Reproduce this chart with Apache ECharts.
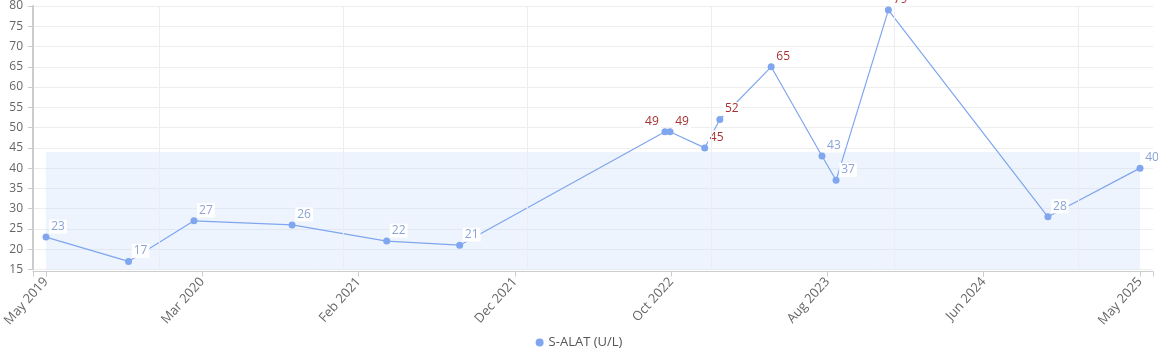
<!DOCTYPE html>
<html>
<head>
<meta charset="utf-8">
<script src="https://cdn.jsdelivr.net/npm/echarts@6/dist/echarts.min.js"></script>
<style>
html,body{margin:0;padding:0;background:#fff;}
#chart{width:1158px;height:361px;}
</style>
</head>
<body>
<div id="chart"></div>
<script>
// ---- data ----
const seriesName = 'S-ALAT (U/L)';
const dates = ['2019-05-21','2019-11-01','2020-03-10','2020-09-21','2021-03-28','2021-08-20',
  '2022-10-02','2022-10-12','2022-12-20','2023-01-19','2023-05-01','2023-08-10','2023-09-07',
  '2023-12-20','2024-11-01','2025-05-03'];
const values = [23,17,27,26,22,21,49,49,45,52,65,43,37,79,28,40];
const xTickLabels = ['May 2019','Mar 2020','Feb 2021','Dec 2021','Oct 2022','Aug 2023','Jun 2024','May 2025'];
const yearLines = ['2020-01-01','2021-01-01','2022-01-01','2023-01-01','2024-01-01','2025-01-01'];
const refLow = 0;
const refHigh = 44;
const yTicks = {min: 15, max: 80, interval: 5};

// ---- build ----
const ts = dates.map(d => Date.parse(d));
const t0 = ts[0], tN = ts[ts.length - 1];
const span = tN - t0;
const pad = span * 13 / 1095;
const xMin = t0 - pad, xMax = tN + pad;
const labelVals = xTickLabels.map((_, i) => t0 + i * span / (xTickLabels.length - 1));
const tickVals = [xMin].concat(labelVals, [xMax]);

const normalLabel = '#8aa3d6';
const highLabel = '#a83232';
const lineColor = '#7fa6ee';

const data = ts.map((t, i) => {
  const item = {value: [t, values[i]]};
  const lbl = {};
  if (values[i] > refHigh) lbl.color = highLabel;
  if (i + 1 < values.length && values[i + 1] === values[i] && ts[i + 1] - t < 30 * 864e5) lbl.offset = [-13, 0];
  item.label = lbl;
  return item;
});

const chart = echarts.init(document.getElementById('chart'), null, {renderer: 'canvas'});
chart.setOption({
  animation: false,
  textStyle: {fontFamily: 'Open Sans, sans-serif'},
  grid: {left: 31, right: 5, top: 5, bottom: 91.5, containLabel: false},
  legend: {
    bottom: 7, left: 'center', icon: 'circle', itemWidth: 8, itemHeight: 8, itemGap: 10,
    textStyle: {color: '#555', fontSize: 13, fontFamily: 'Open Sans, sans-serif'},
    data: [seriesName]
  },
  xAxis: {
    type: 'value', min: xMin, max: xMax, offset: 2,
    axisLine: {show: true, lineStyle: {color: '#ccc', width: 1}},
    axisTick: {show: true, length: 5, lineStyle: {color: '#ccc'}, customValues: tickVals},
    axisLabel: {
      customValues: labelVals, rotate: 48, color: '#666', fontSize: 13, margin: 8,
      formatter: v => {
        let best = 0, bd = Infinity;
        labelVals.forEach((lv, i) => { const d = Math.abs(lv - v); if (d < bd) { bd = d; best = i; } });
        return xTickLabels[best];
      }
    },
    splitLine: {show: false}
  },
  yAxis: {
    type: 'value', min: yTicks.min, max: yTicks.max, interval: yTicks.interval,
    axisLine: {show: true, lineStyle: {color: '#ccc', width: 2}},
    axisTick: {show: true, length: 5, lineStyle: {color: '#ccc'}},
    axisLabel: {color: '#666', fontSize: 12, margin: 10},
    splitLine: {show: true, lineStyle: {color: '#eeeeee', width: 1}}
  },
  series: [{
    name: seriesName,
    type: 'line',
    data: data,
    symbol: 'circle', symbolSize: 7,
    itemStyle: {color: lineColor},
    lineStyle: {color: lineColor, width: 1.2},
    label: {
      show: true, position: 'top', distance: 0, offset: [12, 0],
      color: normalLabel, fontSize: 12, backgroundColor: '#fff', padding: [1, 2]
    },
    markArea: {
      silent: true,
      itemStyle: {color: 'rgba(200,220,250,0.3)'},
      data: [[{xAxis: t0, yAxis: Math.max(refLow, yTicks.min)}, {xAxis: tN, yAxis: refHigh}]]
    },
    markLine: {
      silent: true, symbol: 'none', label: {show: false},
      lineStyle: {color: '#ececf2', width: 1, type: 'solid'},
      data: yearLines.map(d => ({xAxis: Date.parse(d)}))
    },
    z: 3
  }]
});
</script>
</body>
</html>
